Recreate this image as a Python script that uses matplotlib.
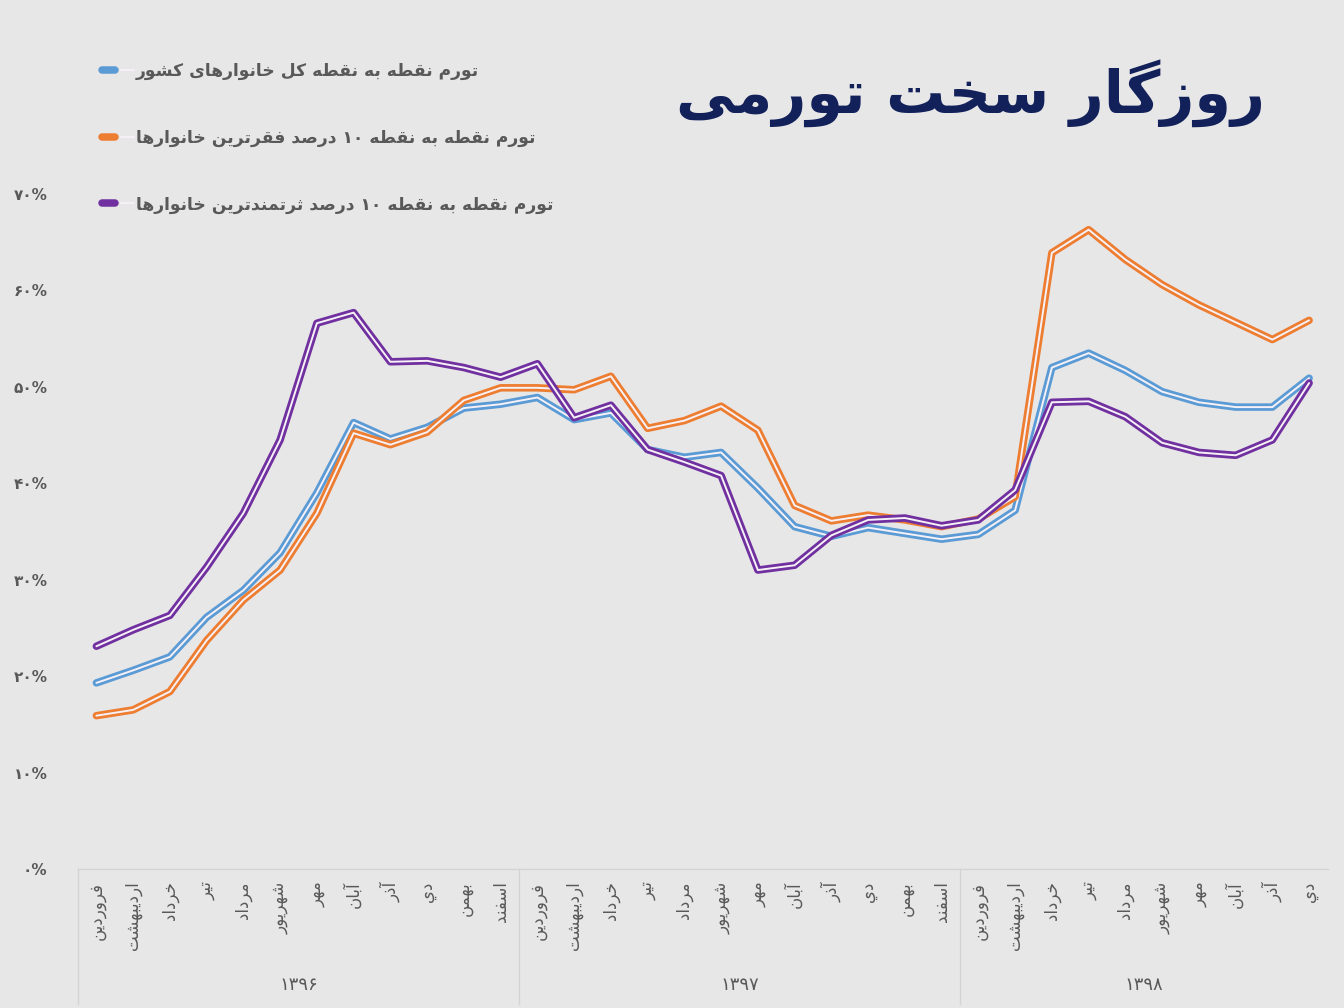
import re
import matplotlib
matplotlib.use("Agg")
import matplotlib.pyplot as plt
from matplotlib.legend_handler import HandlerTuple
import matplotlib.transforms as mtransforms

# ---- data (percent) ----
months = ["فروردین", "اردیبهشت", "خرداد", "تیر", "مرداد", "شهریور",
          "مهر", "آبان", "آذر", "دي", "بهمن", "اسفند"]
years = ["۱۳۹۶", "۱۳۹۷", "۱۳۹۸"]
months_per_year = [12, 12, 10]

total = [19.3, 20.6, 22.0, 26.1, 28.9, 32.8, 39.0, 46.3, 44.6, 45.8, 47.8, 48.2,
         48.9, 46.6, 47.3, 43.5, 42.7, 43.2, 39.5, 35.5, 34.5, 35.4, 34.8, 34.2,
         34.7, 37.2, 52.0, 53.5, 51.7, 49.5, 48.4, 47.9, 47.9, 50.9]
poorest = [15.9, 16.5, 18.4, 23.7, 27.9, 31.0, 36.9, 45.2, 44.0, 45.3, 48.6, 49.9,
           49.9, 49.7, 51.1, 45.7, 46.5, 48.0, 45.5, 37.7, 36.1, 36.7, 36.2, 35.5,
           36.3, 38.6, 63.9, 66.3, 63.2, 60.6, 58.5, 56.7, 54.9, 56.9]
richest = [23.1, 24.8, 26.3, 31.3, 36.9, 44.5, 56.6, 57.7, 52.6, 52.7, 52.0, 51.0,
           52.4, 46.8, 48.1, 43.5, 42.2, 40.8, 31.0, 31.5, 34.6, 36.2, 36.4, 35.6,
           36.2, 39.3, 48.4, 48.5, 46.9, 44.2, 43.2, 42.9, 44.5, 50.4]

series_names = ["تورم نقطه به نقطه کل خانوارهای کشور",
                "تورم نقطه به نقطه ۱۰ درصد فقرترین خانوارها",
                "تورم نقطه به نقطه ۱۰ درصد ثرتمندترین خانوارها"]
series_colors = ["#5b9bd5", "#ed7d31", "#7030a0"]
title = "روزگار سخت تورمی"

# ---- minimal arabic/persian shaping (no reshaper lib available) ----
FORMS = {
    'ا': ('\uFE8D', '\uFE8E', None, None), 'آ': ('\uFE81', '\uFE82', None, None),
    'ب': ('\uFE8F', '\uFE90', '\uFE91', '\uFE92'), 'پ': ('\uFB56', '\uFB57', '\uFB58', '\uFB59'),
    'ت': ('\uFE95', '\uFE96', '\uFE97', '\uFE98'), 'ث': ('\uFE99', '\uFE9A', '\uFE9B', '\uFE9C'),
    'ج': ('\uFE9D', '\uFE9E', '\uFE9F', '\uFEA0'), 'چ': ('\uFB7A', '\uFB7B', '\uFB7C', '\uFB7D'),
    'ح': ('\uFEA1', '\uFEA2', '\uFEA3', '\uFEA4'), 'خ': ('\uFEA5', '\uFEA6', '\uFEA7', '\uFEA8'),
    'د': ('\uFEA9', '\uFEAA', None, None), 'ذ': ('\uFEAB', '\uFEAC', None, None),
    'ر': ('\uFEAD', '\uFEAE', None, None), 'ز': ('\uFEAF', '\uFEB0', None, None),
    'ژ': ('\uFB8A', '\uFB8B', None, None),
    'س': ('\uFEB1', '\uFEB2', '\uFEB3', '\uFEB4'), 'ش': ('\uFEB5', '\uFEB6', '\uFEB7', '\uFEB8'),
    'ص': ('\uFEB9', '\uFEBA', '\uFEBB', '\uFEBC'), 'ض': ('\uFEBD', '\uFEBE', '\uFEBF', '\uFEC0'),
    'ط': ('\uFEC1', '\uFEC2', '\uFEC3', '\uFEC4'), 'ظ': ('\uFEC5', '\uFEC6', '\uFEC7', '\uFEC8'),
    'ع': ('\uFEC9', '\uFECA', '\uFECB', '\uFECC'), 'غ': ('\uFECD', '\uFECE', '\uFECF', '\uFED0'),
    'ف': ('\uFED1', '\uFED2', '\uFED3', '\uFED4'), 'ق': ('\uFED5', '\uFED6', '\uFED7', '\uFED8'),
    'ک': ('\uFB8E', '\uFB8F', '\uFB90', '\uFB91'), 'ك': ('\uFED9', '\uFEDA', '\uFEDB', '\uFEDC'),
    'گ': ('\uFB92', '\uFB93', '\uFB94', '\uFB95'),
    'ل': ('\uFEDD', '\uFEDE', '\uFEDF', '\uFEE0'), 'م': ('\uFEE1', '\uFEE2', '\uFEE3', '\uFEE4'),
    'ن': ('\uFEE5', '\uFEE6', '\uFEE7', '\uFEE8'), 'ه': ('\uFEE9', '\uFEEA', '\uFEEB', '\uFEEC'),
    'و': ('\uFEED', '\uFEEE', None, None),
    'ی': ('\uFBFC', '\uFBFD', '\uFBFE', '\uFBFF'), 'ي': ('\uFEF1', '\uFEF2', '\uFEF3', '\uFEF4'),
}


def shape(text):
    out = []
    for i, c in enumerate(text):
        if c not in FORMS:
            out.append(c)
            continue
        prev = text[i - 1] if i > 0 else ''
        nxt = text[i + 1] if i + 1 < len(text) else ''
        jp = prev in FORMS and FORMS[prev][2] is not None
        jn = nxt in FORMS and FORMS[c][2] is not None
        f = FORMS[c]
        if jp and jn:
            out.append(f[3])
        elif jp:
            out.append(f[1])
        elif jn:
            out.append(f[2])
        else:
            out.append(f[0])
    vis = ''.join(out)[::-1]
    # keep number runs left-to-right
    return re.sub(r'[0-9۰-۹]+', lambda m: m.group(0)[::-1], vis)


def fa_num(n):
    return ''.join("۰۱۲۳۴۵۶۷۸۹"[int(d)] for d in str(n))


bg = "#e8e7e8"
plt.rcParams['font.family'] = ['DejaVu Sans']

fig = plt.figure(figsize=(13.44, 10.08), dpi=100, facecolor=bg)
ax = fig.add_axes([78 / 1344, 139 / 1008, 1249.5 / 1344, 675 / 1008])
ax.set_facecolor(bg)

x = list(range(len(total)))
handles = []
for vals, col in zip([total, poorest, richest], series_colors):
    outer, = ax.plot(x, vals, color=col, lw=5.4, solid_capstyle='round',
                     solid_joinstyle='round')
    inner, = ax.plot(x, vals, color="#f6f1f6", lw=1.4, solid_capstyle='round',
                     solid_joinstyle='round')
    handles.append((outer, inner))

ax.set_xlim(-0.5, len(total) - 0.5)
ax.set_ylim(0, 70)

ax.set_yticks(range(0, 71, 10))
ax.set_yticklabels([fa_num(v) + "%" for v in range(0, 71, 10)],
                   color="#595959", fontsize=11, fontweight='bold')
labels = []
for n in months_per_year:
    labels += months[:n]
ax.set_xticks(x)
ax.set_xticklabels([shape(m) for m in labels], rotation=90, color="#595959",
                   fontsize=12, va='top')
ax.tick_params(axis='both', length=0)
ax.tick_params(axis='x', pad=9)
ax.tick_params(axis='y', pad=22)

for s in ['top', 'right', 'left']:
    ax.spines[s].set_visible(False)
ax.spines['bottom'].set_color("#d4d3d4")
ax.spines['bottom'].set_linewidth(1.0)

# multi-level category axis: group separators and year labels
trans = mtransforms.blended_transform_factory(ax.transData, ax.transAxes)
start = -0.5
for yr, n in zip(years, months_per_year):
    ax.plot([start, start], [0, -0.2], transform=trans, color="#d4d3d4", lw=1.0,
            clip_on=False)
    ax.text(start + n / 2, -0.172, yr, transform=trans, ha='center', va='center',
            fontsize=13, color="#595959")
    start += n

leg = fig.legend(handles, [shape(s) for s in series_names],
                 handler_map={tuple: HandlerTuple(ndivide=None)},
                 loc='upper left', bbox_to_anchor=(95 / 1344, 1 - 55 / 1008),
                 frameon=False, handlelength=1.9, handletextpad=0.1,
                 labelspacing=2.85, fontsize=12.3, borderaxespad=0)
for t in leg.get_texts():
    t.set_color("#595959")
    t.set_fontweight('bold')

fig.text(970 / 1344, 1 - 93 / 1008, shape(title), ha='center', va='center',
         fontsize=42.5, fontweight='bold', color="#13215a")

fig.savefig("out.png", dpi=100, facecolor=bg)
